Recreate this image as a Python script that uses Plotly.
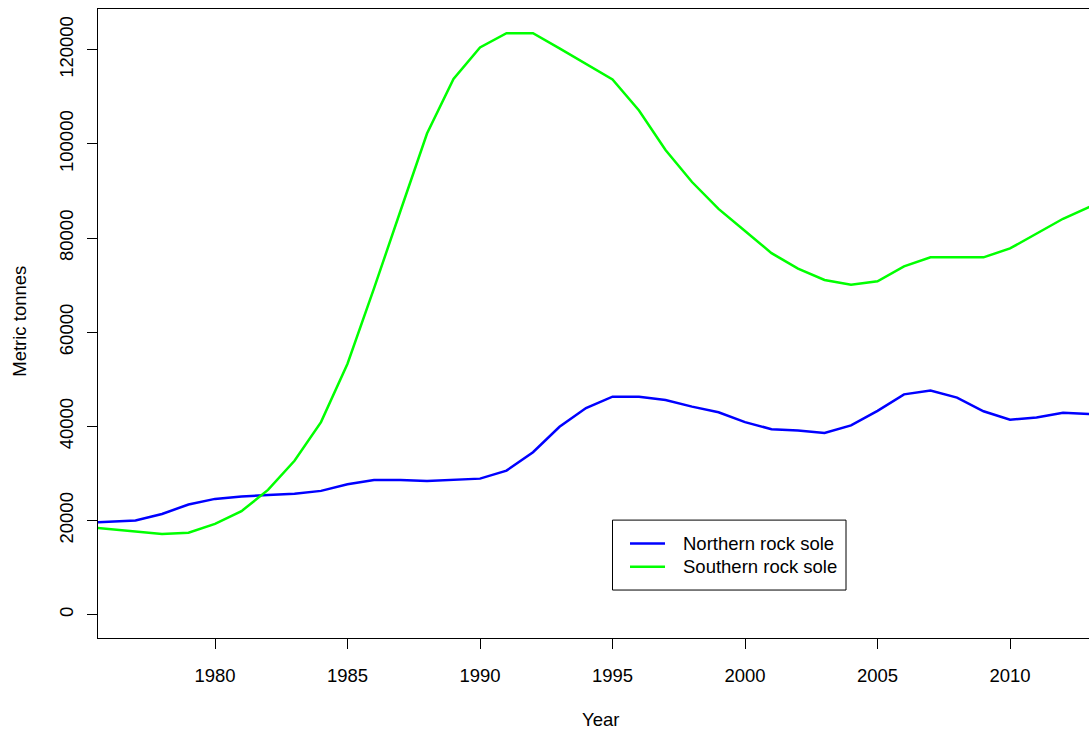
import plotly.graph_objects as go

# Rock sole biomass (metric tonnes)
years = list(range(1975, 2014))
northern = [19500, 19700, 20000, 21400, 23400, 24600, 25100, 25400, 25700, 26300,
            27700, 28600, 28600, 28400, 28600, 28900, 30600, 34500, 39900, 43900,
            46300, 46300, 45600, 44200, 43000, 40900, 39400, 39100, 38600, 40200,
            43300, 46800, 47600, 46100, 43200, 41400, 41900, 42900, 42600]
southern = [18700, 18200, 17700, 17150, 17400, 19300, 22000, 26500, 32700, 40900,
            53300, 69300, 85800, 102200, 113800, 120500, 123500, 123500, 120300, 117000,
            113700, 107100, 98700, 91900, 86200, 81500, 76800, 73500, 71100, 70100,
            70800, 74000, 75900, 75900, 75900, 77800, 81000, 84100, 86600]

series_names = ["Northern rock sole", "Southern rock sole"]
series_colors = ["#0000FF", "#00FF00"]
y_ticks = [0, 20000, 40000, 60000, 80000, 100000, 120000]
x_ticks = [1980, 1985, 1990, 1995, 2000, 2005, 2010]

W, H = 1089, 730
L, R, T, B = 98, 1089, 8.5, 638   # plot box in pixels (right edge cut off like the original)
FONT = "Liberation Sans, Arial, Helvetica, sans-serif"


def px_x(p):
    return (p - L) / (R - L)


def px_y(p):
    return (B - p) / (B - T)


fig = go.Figure()
for name, vals, col in zip(series_names, [northern, southern], series_colors):
    fig.add_trace(go.Scatter(x=years, y=vals, mode="lines", name=name,
                             line=dict(color=col, width=2.5), showlegend=False))

axis_common = dict(showgrid=False, zeroline=False, showline=True, linecolor="black",
                   linewidth=1, ticks="outside", ticklen=10, tickwidth=1,
                   tickcolor="black", tickfont=dict(size=18.5, color="black", family=FONT))

fig.update_xaxes(range=[1975.585, 2012.98], tickvals=x_ticks, mirror=True,
                 ticklabelstandoff=11, **axis_common)
fig.update_yaxes(range=[-4950, 128650], tickvals=y_ticks, tickformat="d", tickangle=-90,
                 ticklabelstandoff=7, **axis_common)

# legend box drawn by hand, like R's legend()
shapes = [dict(type="rect", xref="paper", yref="paper",
               x0=px_x(612.5), x1=px_x(846), y0=px_y(590), y1=px_y(520),
               line=dict(color="black", width=1), fillcolor="white")]
annotations = []
for i, (name, col) in enumerate(zip(series_names, series_colors)):
    yy = px_y(543.3 + i * 23.4)
    shapes.append(dict(type="line", xref="paper", yref="paper",
                       x0=px_x(630), x1=px_x(665), y0=yy, y1=yy,
                       line=dict(color=col, width=2.5)))
    annotations.append(dict(x=px_x(681), y=yy, xref="paper", yref="paper",
                            text=name, showarrow=False, xanchor="left", yanchor="middle",
                            font=dict(size=18.5, color="black", family=FONT)))

annotations.append(dict(x=px_x(600), y=px_y(720), xref="paper", yref="paper",
                        text="Year", showarrow=False, xanchor="center", yanchor="middle",
                        font=dict(size=18.5, color="black", family=FONT)))
annotations.append(dict(x=px_x(19.5), y=px_y(321), xref="paper", yref="paper",
                        text="Metric tonnes", showarrow=False, textangle=-90,
                        xanchor="center", yanchor="middle",
                        font=dict(size=18.5, color="black", family=FONT)))

fig.update_layout(
    width=W, height=H,
    margin=dict(l=L, r=W - R, t=T, b=H - B),
    plot_bgcolor="white", paper_bgcolor="white",
    shapes=shapes, annotations=annotations,
    font=dict(family=FONT, size=18.5, color="black"),
)

# drop the default 8px page margin so the figure fills the window exactly
fig.write_html("out.html", config={"displayModeBar": False},
               post_script="document.body.style.margin='0';")
